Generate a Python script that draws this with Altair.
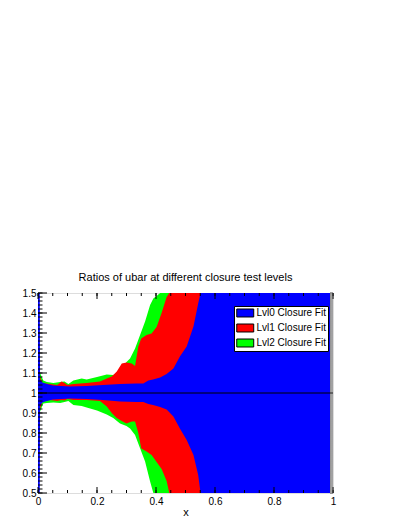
import altair as alt
import pandas as pd

# ---------------- data ----------------
SERIES = ["Lvl0 Closure Fit", "Lvl1 Closure Fit", "Lvl2 Closure Fit"]
COLORS = ["#0000ff", "#ff0000", "#00ff00"]

# Lvl2 (green, widest band)
g_x  = [0, 0.007, 0.018, 0.03, 0.052, 0.075, 0.09, 0.103, 0.12, 0.148, 0.165, 0.2, 0.233, 0.255, 0.278, 0.3, 0.312, 0.329, 0.346, 0.363, 0.38, 0.391, 0.402, 0.414, 0.99]
g_hi = [1.11, 1.10, 1.062, 1.055, 1.05, 1.055, 1.057, 1.045, 1.062, 1.073, 1.068, 1.08, 1.092, 1.09, 1.107, 1.155, 1.173, 1.223, 1.29, 1.357, 1.44, 1.473, 1.485, 1.5, 1.5]
g_lo = [0.89, 0.907, 0.948, 0.95, 0.953, 0.95, 0.955, 0.96, 0.94, 0.935, 0.927, 0.912, 0.892, 0.875, 0.848, 0.835, 0.823, 0.79, 0.724, 0.657, 0.557, 0.5, 0.5, 0.5, 0.5]

# Lvl1 (red)
r_x  = [0, 0.007, 0.015, 0.04, 0.065, 0.08, 0.09, 0.1, 0.12, 0.165, 0.21, 0.233, 0.25, 0.267, 0.284, 0.3, 0.318, 0.329, 0.34, 0.35, 0.368, 0.385, 0.402, 0.419, 0.436, 0.445, 0.99]
r_hi = [1.09, 1.08, 1.05, 1.045, 1.04, 1.058, 1.05, 1.04, 1.045, 1.05, 1.057, 1.073, 1.083, 1.107, 1.148, 1.152, 1.148, 1.135, 1.232, 1.273, 1.29, 1.297, 1.33, 1.40, 1.48, 1.5, 1.5]
r_lo = [0.905, 0.92, 0.957, 0.965, 0.96, 0.965, 0.962, 0.97, 0.965, 0.965, 0.96, 0.932, 0.9, 0.875, 0.86, 0.848, 0.857, 0.857, 0.80, 0.723, 0.707, 0.69, 0.655, 0.62, 0.56, 0.5, 0.5]

# Lvl0 (blue, narrowest band, drawn on top)
b_x  = [0, 0.006, 0.007, 0.015, 0.024, 0.05, 0.108, 0.165, 0.22, 0.278, 0.334, 0.357, 0.374, 0.39, 0.414, 0.436, 0.459, 0.481, 0.504, 0.527, 0.543, 0.551, 0.99]
b_hi = [1.5, 1.5, 1.065, 1.052, 1.048, 1.037, 1.033, 1.035, 1.04, 1.045, 1.048, 1.048, 1.062, 1.068, 1.077, 1.095, 1.123, 1.182, 1.232, 1.332, 1.448, 1.5, 1.5]
b_lo = [0.5, 0.5, 0.94, 0.953, 0.958, 0.967, 0.972, 0.97, 0.965, 0.957, 0.955, 0.955, 0.945, 0.94, 0.93, 0.917, 0.882, 0.823, 0.765, 0.69, 0.59, 0.5, 0.5]

REF_LINE = [1.0]

X_LABELS = [0, 0.2, 0.4, 0.6, 0.8, 1.0]
Y_LABELS = [0.5, 0.6, 0.7, 0.8, 0.9, 1.0, 1.1, 1.2, 1.3, 1.4, 1.5]
X_MINOR = [round(i * 0.05, 2) for i in range(21)]
Y_MINOR = [round(0.5 + i * 0.02, 2) for i in range(51)]
Y_RIGHT = [round(0.5 + i * 0.01, 2) for i in range(101)]

W, H = 295, 200
FONT = "Liberation Sans"

XS = alt.Scale(domain=[0, 1], nice=False, zero=False)
YS = alt.Scale(domain=[0.5, 1.5], nice=False, zero=False)

XAXIS = alt.Axis(values=X_LABELS, format="~g", ticks=False, domain=False, grid=False,
                 labelFont=FONT, labelFontSize=10, labelPadding=3, labelFlush=False,
                 labelColor="black", title="x", titleFont=FONT, titleFontSize=11,
                 titleFontWeight="normal", titleColor="black", titlePadding=0)
YAXIS = alt.Axis(values=Y_LABELS, format="~g", ticks=False, domain=False, grid=False,
                 labelFont=FONT, labelFontSize=10, labelPadding=2, labelFlush=False,
                 labelColor="black", labelOverlap=False, title=None)


def X(field="x"):
    return alt.X(f"{field}:Q", scale=XS, axis=XAXIS)


def Y(field="y"):
    return alt.Y(f"{field}:Q", scale=YS, axis=YAXIS)


color = alt.Color(
    "series:N",
    scale=alt.Scale(domain=SERIES, range=COLORS),
    legend=alt.Legend(
        title=None, orient="none", legendX=196, legendY=13,
        fillColor="white", strokeColor="black", padding=2,
        symbolType="M-1,-0.94H3V0.94H-1Z", symbolSize=72,
        symbolStrokeColor="black", symbolStrokeWidth=1, symbolOpacity=1,
        labelFont=FONT, labelFontSize=10, labelColor="black",
        labelOffset=10.5, rowPadding=3,
    ),
)


def band(xs, hi, lo, name):
    df = pd.DataFrame({"x": xs, "y": hi, "y2": lo, "series": name})
    return alt.Chart(df).mark_area(opacity=1, clip=True, interpolate="linear").encode(
        x=X(), y=Y(), y2="y2:Q", color=color
    )


green = band(g_x, g_hi, g_lo, SERIES[2])
red = band(r_x, r_hi, r_lo, SERIES[1])
blue = band(b_x, b_hi, b_lo, SERIES[0])

ref = alt.Chart(pd.DataFrame({"y": REF_LINE})).mark_rule(color="black", strokeWidth=1).encode(
    y=Y(), x=alt.value(0), x2=alt.value(W)
)


def xticks(vals, length, top):
    df = pd.DataFrame({"x": vals})
    if top:
        yy, yy2 = 0, length
    else:
        yy, yy2 = H, H - length
    return alt.Chart(df).mark_rule(color="black", strokeWidth=1).encode(
        x=X(), y=alt.value(yy), y2=alt.value(yy2)
    )


def yticks(vals, x0, x1, col="black"):
    df = pd.DataFrame({"y": vals})
    return alt.Chart(df).mark_rule(color=col, strokeWidth=1).encode(
        y=Y(), x=alt.value(x0), x2=alt.value(x1)
    )


layers = [
    green, red, blue, ref,
    xticks(X_MINOR, 3, False), xticks(X_LABELS, 6, False),
    xticks(X_MINOR, 3, True), xticks(X_LABELS, 6, True),
    yticks(Y_MINOR, 0, 4.5), yticks(Y_LABELS, 0, 9),
    yticks(Y_RIGHT, W - 3, W, "#444444"),
]

chart = alt.layer(*layers).properties(
    width=W, height=H,
    title=alt.TitleParams(
        "Ratios of ubar at different closure test levels",
        font=FONT, fontSize=11, fontWeight="normal", color="black",
        anchor="middle", offset=5,
    ),
    autosize=alt.AutoSizeParams(type="none"),
    padding={"left": 30, "top": 285, "right": 60, "bottom": 24},
).configure_view(stroke="black", strokeWidth=1).configure(background="white")

chart.save("out.html", embed_options={"renderer": "svg", "actions": False})
